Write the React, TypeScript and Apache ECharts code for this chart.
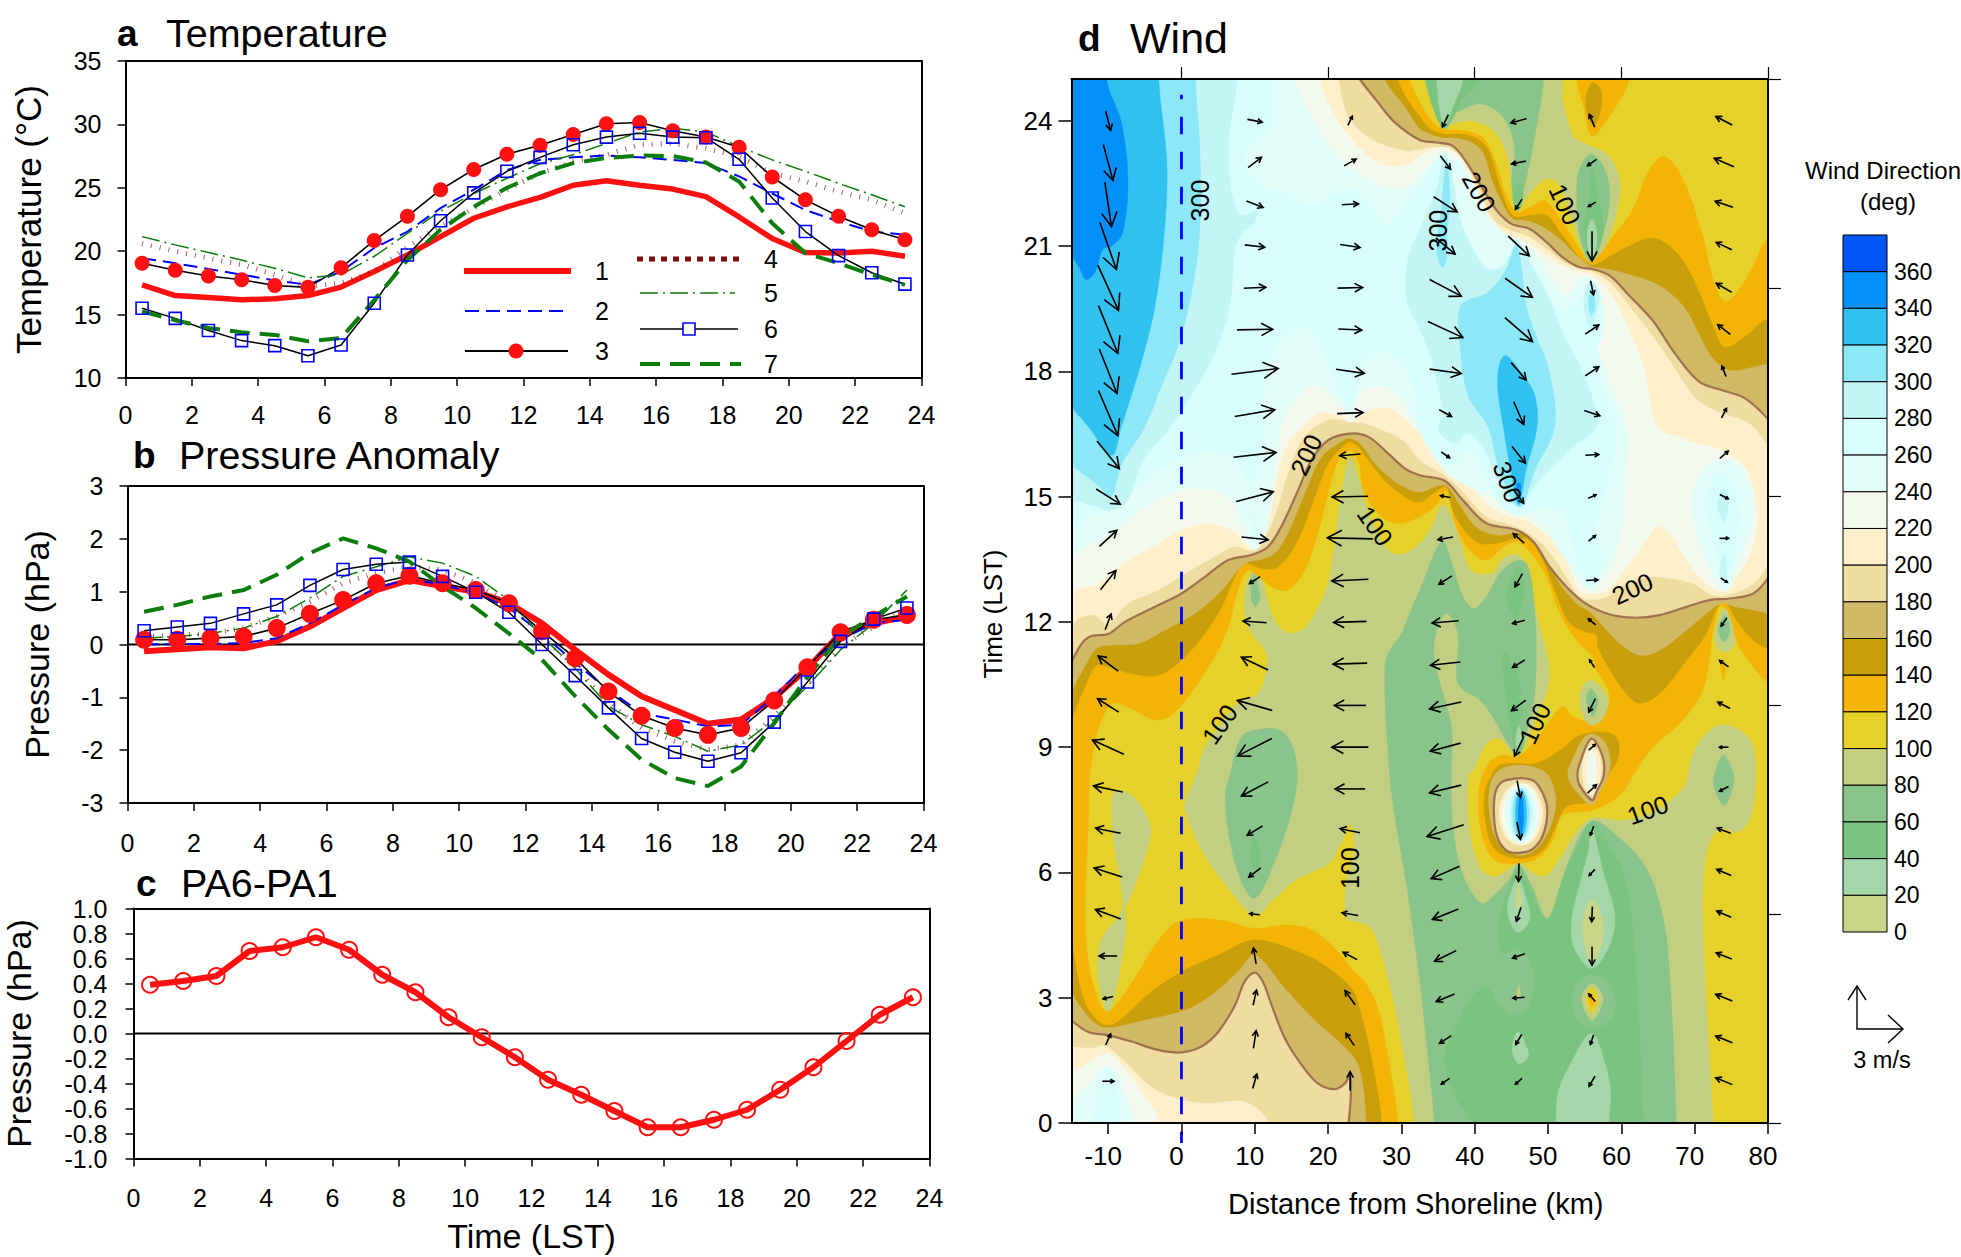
import React, { useEffect, useRef } from "react";
import * as echarts from "echarts";

const FONT = '"Liberation Sans", Arial, sans-serif';

// ---------- panels a, b, c ----------
const hours = [0.5,1.5,2.5,3.5,4.5,5.5,6.5,7.5,8.5,9.5,10.5,11.5,12.5,13.5,14.5,15.5,16.5,17.5,18.5,19.5,20.5,21.5,22.5,23.5];

const temp1 = [17.35,16.5,16.35,16.17,16.25,16.5,17.17,18.4,19.7,21.15,22.6,23.5,24.25,25.2,25.55,25.2,24.9,24.3,22.7,21,19.9,19.85,20,19.6];
const temp2 = [19.45,19.05,18.6,18.15,17.7,17.35,18.4,20.25,21.55,23.4,24.85,26.4,27.2,27.4,27.55,27.4,27.2,26.95,25.9,24.55,23.25,22.35,21.55,21.3];
const temp3 = [19.05,18.5,18.05,17.75,17.3,17.15,18.7,20.85,22.75,24.85,26.45,27.65,28.35,29.2,30.05,30.15,29.5,29,28.2,25.85,24.05,22.75,21.7,20.9];
const temp4 = [20.6,20,19.45,18.95,18.15,17.2,17.5,18.4,20.35,21.95,23.4,24.85,26.15,27.05,27.6,28.4,28.5,28.1,27.45,26.15,25.5,24.7,24.05,23];
const temp5 = [21.15,20.5,19.9,19.3,18.65,17.9,18.15,19.6,21.4,23.15,24.55,25.75,26.9,27.6,28.5,29.4,29.7,29.4,28.25,27.2,26.3,25.35,24.45,23.5];
const temp6 = [15.5,14.7,13.75,12.95,12.55,11.75,12.6,15.9,19.7,22.4,24.6,26.3,27.4,28.4,29,29.3,29,28.95,27.25,24.2,21.55,19.65,18.3,17.4];
const temp7 = [15.25,14.55,13.95,13.6,13.4,12.9,13.15,16.15,19.3,21.7,23.5,25,26.15,26.95,27.35,27.55,27.5,27,25.5,22.2,19.85,19.05,18.15,17.35];

const pres1 = [-0.13,-0.09,-0.05,-0.07,0.06,0.34,0.69,1.03,1.22,1.1,1,0.78,0.4,-0.1,-0.57,-0.98,-1.24,-1.5,-1.42,-1.01,-0.45,0.21,0.4,0.53];
const pres2 = [0,0.01,0.01,0.03,0.12,0.4,0.75,1.07,1.24,1.13,0.97,0.69,0.21,-0.35,-0.86,-1.3,-1.42,-1.55,-1.52,-0.98,-0.35,0.09,0.4,0.47];
const pres3 = [0.09,0.09,0.12,0.15,0.31,0.58,0.84,1.16,1.3,1.16,1.03,0.78,0.25,-0.26,-0.89,-1.35,-1.58,-1.71,-1.58,-1.06,-0.43,0.23,0.47,0.56];
const pres4 = [0.15,0.18,0.21,0.31,0.53,0.81,1.16,1.35,1.47,1.41,1.16,0.78,0.15,-0.42,-1.11,-1.58,-1.83,-1.99,-1.9,-1.36,-0.73,-0.04,0.34,0.66];
const pres5 = [0.12,0.15,0.21,0.31,0.53,0.88,1.29,1.47,1.66,1.54,1.29,0.84,0.15,-0.45,-1.17,-1.52,-1.74,-2.02,-1.9,-1.42,-0.79,-0.1,0.4,1.03];
const pres6 = [0.26,0.33,0.4,0.58,0.75,1.12,1.42,1.52,1.56,1.29,0.99,0.61,0,-0.59,-1.2,-1.78,-2.04,-2.21,-2.05,-1.47,-0.71,0.06,0.48,0.69];
const pres7 = [0.62,0.75,0.91,1.03,1.32,1.73,2.01,1.82,1.57,1.1,0.69,0.21,-0.29,-0.98,-1.61,-2.18,-2.53,-2.68,-2.31,-1.49,-0.61,0.15,0.53,0.91];

const pa6MinusPa1 = [0.39,0.42,0.46,0.66,0.69,0.77,0.67,0.47,0.33,0.13,-0.03,-0.19,-0.37,-0.49,-0.62,-0.75,-0.75,-0.69,-0.61,-0.45,-0.27,-0.06,0.15,0.29];

// ---------- panel d: colour bands from the top of the bar to the bottom ----------
const bandColors = ["#0055F5","#0590F8","#30C1F1","#8CE8F6","#C3F5F7","#D7FEFD","#E2FCF8","#F4F9EE","#FCEFC9","#EFDCA0","#D1B966","#C89F0B","#F4B406","#E6D02A","#C2CE82","#89C58B","#7BC47F","#A5D6AA","#C8D688"];
const barLabels = ["360","340","320","300","280","260","240","220","200","180","160","140","120","100","80","60","40","20","0"];
const BAND = { b340:1,b320:2,b300:3,b280:4,b260:5,b240:6,b220:7,b200:8,b180:9,b160:10,b140:11,b120:12,b100:13,b80:14,b60:15,b40:16,b20:17,b0:18 };

type P = number[];
const plotAll: P[] = [[-40,-20],[120,-20],[120,50],[-40,50]];

// rings are [km, hour]
const olive1: P[] = [[31.8,-1],[31.8,0],[30,1.95],[28.2,3.46],[25.9,4.66],[23.9,4.82],[22.5,4.9],[22.4,5.62],[23.4,6.41],[23.6,6.81],[23,7.17],[21.6,6.65],[20,6.21],[15.9,5.86],[12.7,5.38],[10,4.98],[6.4,5.62],[3.2,6.41],[0.7,7.37],[0.5,7.69],[2,8.33],[3.2,9],[6.4,9.8],[7.7,10.05],[10.5,10.3],[11.6,10.84],[11.6,11.24],[9.1,11.88],[8.6,12.36],[8.9,12.92],[10,13.24],[10.9,13.08],[12.3,12.2],[14.1,11.76],[16.4,11.8],[18.2,12.2],[20,12.92],[20.9,13.88],[21.8,15.07],[23,15.95],[24.1,15.47],[25.9,14.43],[28.4,13.68],[30.5,13.64],[32.5,13.88],[33.9,14.2],[35.7,14.8],[37.5,14.2],[39.1,13.32],[40.2,13.16],[42.3,13.16],[43.9,13.52],[45.9,13.6],[47,13.32],[48.4,12.2],[50,11.08],[50,10.44],[48.2,9.65],[47,9.09],[45.7,8.8],[43.4,9.2],[41.6,9.09],[39.8,8.45],[39.1,8.33],[39.3,6.97],[40.9,6.06],[42.7,5.9],[44.8,6.1],[46,6.24],[47.3,6.06],[49.5,5.9],[51.6,6.33],[53.9,6.97],[56,7.29],[60.2,7.25],[64.3,7.45],[68.4,8],[69.1,8.33],[69.8,8.85],[71.6,9.33],[73.6,9.53],[76.1,9.41],[78,9.01],[78.2,7.93],[77.5,7.29],[75.9,6.97],[73.6,7.05],[72,6.73],[71.1,5.62],[71.4,3.54],[72.5,0],[72.5,-1]];
const olive2: P[] = [[-9.1,7.93],[-6.8,7.85],[-4.8,7.37],[-4.2,6.97],[-5.2,6.26],[-7,5.38],[-7.7,5.14],[-7.6,4.66],[-8.2,3.86],[-9.3,2.9],[-10,2.66],[-10.7,2.9],[-11.4,3.62],[-10.9,4.42],[-8.2,5.06],[-8.2,5.62],[-9.1,6.57],[-9.5,7.37]];
const olive3: P[] = [[33.6,26],[33.6,25],[35.8,23.82],[37,23.92],[39.3,24],[42.3,23.8],[44.3,23.24],[45,22.6],[45.7,21.85],[47.5,22.25],[49.8,22.62],[51.6,22.45],[53.4,21.57],[55.9,20.6],[58.4,21.25],[59.8,22.29],[59.5,22.77],[58,23.2],[55.2,23.44],[53.4,23.64],[52,24.52],[52,25],[52,26]];
const green1: P[] = [[34.5,-1],[34.5,0],[33.4,1.95],[32.5,3.4],[30.7,5.7],[29.3,7.13],[28.4,8.33],[27.7,10.68],[28.2,11.24],[30,11.72],[31.1,12.2],[32.5,12.76],[35.5,13.92],[37.05,13.32],[38.2,12.68],[39.8,12.32],[41.6,12.6],[43.4,13.16],[45.9,13.48],[47.3,13.32],[48.2,12.2],[48.4,11.08],[48,10.05],[46.6,9.09],[45.7,8.81],[44.5,9.09],[42.7,9.65],[40.7,10.13],[37.7,10.53],[37.7,11.72],[36.1,12.2],[34.5,11.56],[34.8,10.84],[36.8,9.5],[36.8,8.33],[37,7.13],[38.4,5.94],[40.9,5.26],[42.7,5.46],[44.8,5.86],[46,6.19],[47.7,5.7],[50,4.9],[52.95,6.33],[56,7.23],[59.8,6.81],[63.4,6.1],[65.7,4.9],[66.6,3.54],[67.5,0],[67.5,-1]];
const green2: P[] = [[6.6,8.33],[8.2,9.25],[10.5,9.42],[13.2,9.42],[15,9.09],[15.8,8.33],[15,7.45],[12.7,6.26],[10,5.38],[8,5.86],[6.4,6.97],[6,7.85]];
const green3: P[] = [[72.7,8.33],[73.9,8.81],[75.3,8.33],[75,7.93],[74,7.61],[72.7,8.01]];
const green4: P[] = [[9.9,13.16],[10.7,12.6],[10.1,12.36],[9.5,12.6]];
const green5: P[] = [[33.2,26],[33.2,25],[35.8,23.82],[37.3,24.16],[38.9,24.32],[40.7,24.4],[42.7,24.28],[44.5,23.92],[45.5,23.24],[45,22.6],[45.7,21.85],[46.8,22.45],[48.2,23.64],[49.4,25],[49.4,26]];
const green6: P[] = [[55.9,23.2],[57.7,22.85],[58.4,22.2],[57.7,21.4],[55.9,20.6],[54.3,21.25],[53.9,22.2],[54.3,22.85]];
const mid1: P[] = [[39.5,-1],[39.5,0],[37,0.75],[35.9,1.63],[38,2.5],[40.2,3.14],[41.8,3.22],[43.4,2.82],[45,2.58],[47,2.7],[48.2,3.38],[47.5,3.86],[45.9,4.18],[43.9,4.06],[43.2,4.5],[43.2,4.82],[44.8,5.7],[46,6.19],[47,5.78],[48.9,5.06],[50.1,4.9],[52,5.86],[53.9,6.57],[56,7.23],[57.95,6.73],[60.2,6.02],[61.6,4.58],[62.3,2.74],[63,0],[63,-1]];
const mid2: P[] = [[33.4,26],[33.4,25],[35.8,23.82],[38.4,24.52],[40.7,25],[40.7,26]];
const mid3: P[] = [[56,22.9],[56.8,22.2],[57.5,21.4],[56,20.65],[54.8,21.4],[55.7,22.2]];
const mid4: P[] = [[46.1,22.5],[46.6,22.2],[45.9,21.85],[45.2,22.2]];
const mid5: P[] = [[45.9,13.32],[46.8,12.84],[45.7,12.12],[44.4,12.44],[44.5,12.84]];
const mid6: P[] = [[43.9,11.28],[45.5,10.84],[46.6,9.9],[45.9,9.5],[46.8,9.17],[45.9,8.81],[44.8,9.57],[44.1,10.44]];
const mid7: P[] = [[10,6.81],[10.8,6.45],[10.1,6.06],[9.3,6.42]];
const pale1: P[] = [[51.1,-1],[51.1,0],[51.4,0.75],[53,1.39],[55.9,2.15],[57.7,1.47],[58.5,0.75],[58.3,0],[58.3,-1]];
const pale2: P[] = [[56,7.05],[57.5,6.02],[59.1,4.98],[58.4,4.26],[56,3.7],[53.6,4.18],[53.2,4.82],[54.3,5.7],[55.5,6.5]];
const pale3: P[] = [[45.95,5.86],[47,5.38],[47.5,4.9],[46,4.56],[44.8,4.82],[44.5,5.22],[45.1,5.62]];
const pale4: P[] = [[45.95,2.18],[47.3,1.7],[47,1.51],[45.9,1.43],[45.1,1.79]];
const pale5: P[] = [[34.8,26],[34.8,25],[35.8,23.9],[37.3,24.45],[38.4,25],[38.4,26]];
const pale6: P[] = [[56,21.65],[56.6,21.4],[56.6,21],[56,20.7],[55.4,21],[55.4,21.4]];
const pale7: P[] = [[46,9.5],[46.4,9.17],[45.9,8.93],[45.6,9.17]];
const low1: P[] = [[45.95,5.78],[46.4,5.22],[45.95,5.1],[45.6,5.26]];
const low2: P[] = [[55.9,5.34],[57.4,4.9],[57.3,4.26],[55.9,3.8],[54.8,4.42],[54.8,4.9]];
const spot60: P[] = [[56,3.54],[58.4,3.34],[59.2,2.9],[58.2,2.42],[56,2.28],[54.1,2.46],[53.3,2.9],[54.1,3.38]];
const spot80: P[] = [[56,3.34],[57.5,2.98],[56,2.46],[54.6,2.98]];
const spot100: P[] = [[56,3.26],[56.8,2.94],[56,2.62],[55.2,2.94]];
const spot120: P[] = [[56,3.08],[56.4,2.92],[56,2.78],[55.6,2.92]];
const spot80b: P[] = [[46,3.3],[46.2,3],[45.7,3]];

const orange1: P[] = [[29.5,-2],[29.5,0],[28.6,1.15],[26.8,2.74],[25,3.38],[23.6,3.62],[20.5,4.26],[17.3,4.66],[14.1,4.74],[10,4.66],[6.4,4.82],[1.8,4.9],[-0.9,4.78],[-3.6,4.26],[-6.4,3.46],[-10,2.66],[-11.4,2.98],[-12.7,3.86],[-13.2,5.14],[-12.7,7.13],[-12.5,8.33],[-11.8,9.09],[-10.9,9.65],[-9.3,10.05],[-7,9.93],[-3.6,9.65],[-1.4,9.77],[0.9,10.2],[4.5,11.16],[6.4,11.88],[7.7,12.76],[9.1,13.24],[10.5,13.08],[12.3,12.84],[14.5,12.76],[16.8,13.24],[18.6,14.12],[20,15.07],[21.4,15.87],[23,16.11],[24.1,15.87],[25,15.07],[27.3,14.52],[29.5,14.36],[32.5,14.52],[34.8,14.8],[36.1,15.15],[37.5,14.27],[39.3,13.72],[41.6,13.48],[43.9,13.8],[45.7,13.92],[47.5,13.68],[49.8,13.08],[51.6,12.2],[53.9,11.56],[56.1,11.16],[56.6,10.84],[58.2,10.37],[58.2,9.97],[56.4,9.61],[53.4,9.73],[52,9.97],[50,9.57],[48.2,9.13],[45.7,8.77],[43.9,8.81],[42.3,8.69],[41.1,8.33],[40.5,7.85],[40.7,7.13],[42.3,6.37],[44.8,6.21],[48.4,6.33],[50.5,6.73],[52,7.37],[56.1,7.49],[59.8,7.85],[61.6,8.33],[64.3,9],[68.4,9.65],[71.1,10.37],[72,11.08],[72.5,11.8],[73.6,12.4],[74.8,11.96],[76.1,11.4],[78,10.92],[80,10.53],[82.5,10.3],[82.5,21],[80,21.17],[78,20.53],[76.1,19.97],[74.1,19.67],[72.5,20.2],[71.1,21.25],[68.4,22.6],[65.9,23.15],[63.9,22.85],[61.6,21.89],[59.3,21.33],[55.9,20.63],[54.3,20.93],[52,21.57],[49.5,22.09],[47.95,21.97],[45.8,21.81],[44.3,22.21],[42.7,23.08],[41.1,23.6],[38.4,23.76],[35.8,23.79],[34.3,23.96],[32.5,24.44],[31.1,25],[30,26],[-17,27],[-17,-2]];
const orange2: P[] = [[53.9,26],[53.9,25],[54.8,24.36],[56,23.64],[58.4,24.12],[61.1,25],[61.1,26]];
const orange3: P[] = [[73.6,11],[74.2,10.9],[73.9,10.6]];
const dark1: P[] = [[27.3,-2],[27.3,0],[25.9,1.55],[24.3,2.74],[23.2,3.22],[19.5,3.78],[15.9,4.1],[10,4.38],[5,4.02],[0,3.62],[-4.1,3.14],[-6.4,2.78],[-9.1,2.38],[-10.9,2.38],[-13.2,2.9],[-15,4.34],[-16.5,6],[-16.5,9],[-15,9.65],[-13.2,10.44],[-11.6,10.96],[-10,10.92],[-6.8,10.76],[-3.2,10.72],[0,11.08],[3.2,11.72],[5.5,12.36],[7.3,13.08],[8.6,13.4],[10.9,13.28],[13.2,13.32],[15.9,13.96],[18.2,15],[20,15.79],[22,16.2],[23,16.31],[24.1,16.2],[25.5,15.87],[27.7,15.39],[30.5,14.99],[32.5,14.87],[34.3,15.07],[36.1,15.23],[37,14.67],[38.9,14.12],[40.7,13.88],[43,13.88],[45.7,14],[47.5,13.96],[49.3,13.48],[51.1,12.68],[53,11.96],[55.2,11.76],[56.6,11.68],[56.8,11.4],[59.3,10.6],[60.7,10.28],[62.5,10.05],[65.2,10.28],[68.9,11.08],[71.6,11.72],[73,12.32],[74.1,12.48],[75.7,12.04],[78,11.56],[80,11.36],[82.5,11.2],[82.5,19],[80,19.25],[77,18.85],[74.1,18.58],[72.5,19.09],[69.8,20.21],[67.5,20.85],[64.3,21.19],[60.7,20.97],[56.6,20.57],[55.9,20.55],[54.3,20.73],[52,21.25],[49.8,21.73],[47.5,21.73],[45.2,21.73],[43.4,22.45],[41.8,23.32],[40,23.6],[38,23.68],[35.8,23.68],[33.9,23.8],[32.5,24.1],[30.5,24.6],[29.5,25],[28.5,26],[-17,27],[-17,-2]];
const dark2: P[] = [[55.2,24.6],[56.1,24.92],[57.3,24.68],[57,24.12],[56.1,23.88],[55.2,24.28]];
const dark3: P[] = [[43.4,8.57],[46.1,8.61],[48.4,8.61],[52,8.97],[53.9,9.25],[57,9.37],[59.3,9.25],[59.6,8.77],[58.2,8.33],[56.1,7.73],[52.5,7.57],[50.9,7.05],[49.3,6.53],[46.1,6.33],[42.7,6.57],[41.4,7.29],[41.4,7.93],[42.3,8.33]];
const tan1: P[] = [[25.2,-2],[25.2,0],[24.5,1.15],[23.6,1.55],[21.4,1.95],[17.7,2.54],[14.1,3.22],[10,4.02],[7.7,3.62],[4.1,3.06],[0.5,2.7],[-5,2.46],[-9.1,2.3],[-10.9,2.3],[-12.7,2.54],[-15,3.14],[-16.5,4],[-16.5,9],[-15,10.28],[-13.2,10.92],[-11.6,11.36],[-9.8,11.44],[-5.9,11.48],[-2.3,11.8],[1.8,12.2],[5.5,12.76],[7.7,13.24],[9.1,13.44],[10.5,13.48],[12.7,13.64],[14.5,14.12],[16.8,15.07],[19.1,15.95],[21.4,16.27],[23,16.4],[24.6,16.23],[26.4,15.79],[28.6,15.43],[30.9,15.19],[32.5,15.11],[35.9,15.27],[38,14.79],[40.2,14.27],[43,14.08],[45.7,14.13],[47.5,14.08],[49.8,13.52],[51.6,12.92],[53.9,12.44],[55.7,12.24],[58,11.8],[59.8,11.48],[62.5,11.2],[65.2,11.32],[68.9,11.8],[71.6,12.2],[73.6,12.44],[75.5,12.36],[78,12.28],[80,12.2],[82.5,12],[82.5,17.5],[80,18.14],[78,18.1],[74.8,18.02],[72.5,18.3],[70.7,18.85],[68.4,19.57],[65.2,20.05],[61.6,20.29],[58,20.45],[55.9,20.51],[53.9,20.77],[51.6,21.17],[49.3,21.45],[47,21.61],[45.2,21.65],[43.9,21.97],[42.3,22.6],[41.1,23.24],[39.5,23.48],[37.5,23.58],[35.2,23.6],[33.4,23.72],[32.5,23.8],[30.5,24.32],[27.7,25],[26.5,26],[-17,27],[-17,-2]];
const tan2: P[] = [[42.7,8.33],[43.9,8.5],[46.1,8.57],[48.4,8.5],[50,8.33],[51,7.85],[50.9,7.45],[50,6.97],[48.4,6.57],[46.1,6.41],[43.2,6.73],[42.05,7.37],[42,8]];
const tan3: P[] = [[55.9,9.32],[57.7,9.13],[58.5,8.69],[58.2,8.33],[57,7.89],[56,7.61],[53.9,7.93],[52.7,8.33],[53.6,8.81],[54.8,9.2]];
const pocket1: P[] = [[55.9,10.6],[57.5,10.37],[58.2,10.05],[57.3,9.65],[55.9,9.53],[54.8,9.73],[54.3,10.17],[54.8,10.48]];
const pocket1a: P[] = [[55.9,10.4],[56.8,10.13],[56.1,9.73],[55.5,9.97],[55.2,10.2]];
const pocket2: P[] = [[74.1,12.32],[75.5,11.56],[74.5,11.28],[73.2,11.36],[72.7,11.72]];
const pocket2a: P[] = [[74.1,12.16],[74.8,11.8],[74,11.52],[73.2,11.8]];

// the brown contour lines
const brownUpper: P[] = [[24.3,25],[26.8,24.44],[29.1,23.96],[32.5,23.54],[34.8,23.48],[37,23.4],[38.9,23],[41.1,22.37],[43,21.85],[45,21.53],[47.5,21.41],[49.8,21.09],[52,20.73],[54.3,20.49],[56.1,20.45],[58.4,20.29],[61.1,19.81],[64.3,19.21],[67.5,18.38],[70.7,17.74],[73.9,17.54],[76.6,17.38],[78.4,17.14],[80,16.86]];
const brownLower: P[] = [[-15,11.04],[-13.6,11.48],[-12.3,11.66],[-10,11.71],[-7.7,12],[-3.6,12.36],[0,12.68],[3.2,13.08],[6.4,13.48],[9.5,13.6],[11.8,13.8],[13.6,14.28],[15.9,15.15],[17.7,15.87],[20,16.35],[23,16.51],[25.5,16.43],[28.2,16.03],[30.5,15.67],[32.5,15.51],[35.9,15.38],[38.4,14.91],[41.6,14.36],[45.7,14.2],[48,13.92],[50.2,13.32],[52.5,12.84],[54.8,12.48],[58,12.2],[61.6,12.1],[65.2,12.16],[68.9,12.36],[72,12.52],[74.8,12.56],[78,12.68],[80,13.04]];
const brownBottom: P[] = [[-15,2.46],[-12.7,2.18],[-10,2.1],[-6.8,1.95],[-3.2,1.75],[0,1.69],[2.7,1.83],[5,2.18],[7.3,2.82],[8.6,3.38],[10,3.6],[11.1,3.38],[12.3,2.82],[14.1,2.03],[16.4,1.39],[18.6,0.95],[20.9,0.81],[22.3,0.95],[23,1.15],[23.1,0.67],[22.8,0]];
const brownBubble1: P[] = [[44.3,8.21],[47.9,8.21],[49.4,7.85],[49.9,7.45],[49.3,6.89],[47.9,6.56],[46.1,6.47],[44.3,6.53],[43,6.89],[42.6,7.53],[43,8.01]];
const brownBubble2: P[] = [[55.9,9.2],[57.4,8.8],[57.6,8.33],[56.6,7.93],[56,7.73],[54.3,8.09],[54,8.33],[54.3,8.6]];

const band180: P[] = [[-17,10.5],...brownLower,[82,15],...[...brownUpper].reverse(),[23,26.5],[-17,27]];
const band180b: P[] = [[-17,2.6],...brownBottom,[22.8,-2],[-17,-2]];

const band200: P[] = [[-15,11.88],[-12.3,12.18],[-10,11.96],[-7.3,12.44],[-3.2,12.76],[0.5,13.16],[4.1,13.52],[7.3,13.8],[9.8,13.73],[12.3,14.35],[14.5,15.55],[16.4,16.35],[18.2,16.67],[20.5,16.85],[23,16.8],[25,16.75],[28,16.55],[30.5,16.3],[32.5,15.87],[35.9,15.51],[38.4,15.11],[41.6,14.51],[44.3,14.36],[46.6,14.2],[48.9,13.92],[50.7,13.56],[52.5,13.08],[54.3,12.6],[56.1,12.54],[58,12.6],[60.7,12.92],[63.9,13.08],[66.6,13.04],[69.8,12.92],[72.5,12.64],[75.2,12.68],[78,12.92],[80,13.4],[82,14.5],[82,16],[80,16.23],[78,16.67],[76.1,16.86],[73.4,17.02],[70.2,17.34],[67,18.14],[63.9,18.93],[60.7,19.65],[58.4,20.13],[56.1,20.38],[52.5,20.57],[49.8,20.93],[47,21.25],[44.8,21.37],[42.5,21.65],[40.5,22.37],[38,23.16],[35.9,23.32],[33.9,23.36],[32.5,23.31],[30.5,23.28],[25.9,23.56],[22.7,24.12],[21.4,25],[20,26.5],[-17,27],[-17,10]];
const band200b: P[] = [[-17,1.9],[-15,1.83],[-12.3,1.79],[-10.5,1.85],[-7.7,1.47],[-4.5,0.91],[-1.4,0.63],[3.2,0.47],[7.7,0.53],[10,0.39],[11.8,0],[12,-2],[-17,-2]];
const band220: P[] = [[-15,12.68],[-11.4,12.92],[-7.3,13.48],[-3.2,13.88],[0,14.2],[3.6,14.37],[6.8,14.2],[10,13.72],[11.6,14.2],[13.2,15.63],[14.5,16.27],[16.4,16.67],[18.9,17.02],[21.6,16.94],[23,16.78],[25.9,17.1],[28.6,17.1],[30.5,16.86],[31.5,16.67],[33.9,16.35],[35.9,15.79],[38.4,15.51],[41.6,14.83],[44.3,14.55],[47,14.43],[50.7,13.96],[52.5,13.48],[54.3,12.76],[56.1,12.68],[58,12.76],[60.7,13.32],[63.4,13.96],[64.8,14.28],[66.6,14.12],[68.9,13.48],[71.6,12.92],[74.1,12.72],[76.1,13.16],[78.2,13.96],[78.4,14.75],[76.8,15.71],[73.4,16.11],[68.9,16.35],[65,16.67],[63,18.14],[60.7,19.13],[58.4,19.89],[56,20.3],[52.9,20.45],[49.8,20.77],[47,21.09],[43.9,21.33],[41.6,21.81],[38.9,22.85],[37,23.28],[35.2,23.36],[32.5,23.16],[30,22.91],[26.8,23],[23.2,23.56],[20.9,24.12],[18.9,25],[18,26.5],[-17,27],[-17,11]];
const band220b: P[] = [[-17,1.1],[-15,1.23],[-12.7,1.43],[-10,1.67],[-8.2,1.39],[-5.5,0.75],[-3.1,0],[-3,-2],[-17,-2]];
const band240: P[] = [[-15,13.52],[-9.5,14.12],[-4.1,14.83],[0,15.15],[3.2,15.19],[6.4,14.99],[8.2,14.35],[10,13.76],[11.8,14.44],[12.7,15.47],[13.6,16.67],[15.5,17.34],[17.7,17.66],[19.5,17.58],[21.8,17.18],[23,17.02],[24.5,17.5],[27.3,17.66],[29.5,17.42],[31.8,16.78],[33.5,16.2],[36,15.6],[38.4,15.3],[41.6,15.05],[45.7,14.75],[48.9,14.35],[51.6,13.7],[53.9,13.08],[55.7,12.76],[57,12.92],[58.4,13.32],[59.8,14.04],[60.5,15.15],[60.7,16.67],[58.9,17.42],[57.7,18.06],[56.8,18.7],[57.7,19.41],[56.1,20.21],[54.3,20.21],[52.5,19.81],[50.7,20.21],[47.5,20.93],[44.5,21.25],[42,21.65],[39.5,22.6],[37.5,23.08],[34.1,22.92],[32.5,22.69],[31.4,22.45],[28.6,22.37],[24.5,22.69],[20.5,23.32],[17.7,24.12],[15.5,25],[14.5,26.5],[-17,27],[-17,12]];
const band240b: P[] = [[-17,0.2],[-15,0.47],[-12.3,0.99],[-10,1.39],[-8.4,0.99],[-6.4,0],[-6,-2],[-17,-2]];
const band260: P[] = [[-15,14.2],[-9.1,14.83],[-3.6,15.55],[0,15.91],[3.2,16.1],[5.9,16],[8.2,15.63],[9.3,15.23],[10.9,16.19],[11.3,16.67],[11,17.48],[13.2,18.7],[15.9,19.05],[18.2,18.85],[20.9,17.82],[23,17.02],[25,18.3],[28.2,18.42],[30.9,17.98],[32.5,16.67],[35.2,15.87],[37,15.75],[38.9,16.11],[41.1,15.63],[43.4,14.83],[46.1,14.55],[49.3,14.75],[52,14.6],[53.9,13.48],[55.7,12.84],[56.6,13],[57.5,13.64],[56.4,14.2],[58.2,15.47],[59.3,16.67],[57.7,17.42],[56.6,18.6],[57.3,18.8],[57.5,19.41],[56.6,19.97],[56.1,20.13],[55,19.89],[53.4,19.57],[51.6,19.45],[49.8,20.05],[47,20.85],[45.7,21.2],[44.8,20.85],[43,20.45],[42,20.41],[39.3,20.93],[36.8,22.13],[36.1,23.24],[34.8,23.08],[33,22.6],[32.5,22.53],[30.5,21.97],[27.7,21.53],[25,22.13],[22.3,22.37],[17.7,21.97],[14.1,22.25],[10.9,22.45],[9.1,22.77],[8.6,23.24],[10,23.56],[11.8,23.8],[12.3,24.52],[12.3,25],[12,26.5],[-17,27],[-17,13]];
const band260b: P[] = [[-12.3,-1],[-12.3,0],[-10.4,1.15],[-10,1.3],[-9.3,1.15],[-8.4,0],[-8.4,-1]];
const band260c: P[] = [[10,14.75],[10.3,14.3],[10,13.95],[9.7,14.3]];
const band280a: P[] = [[7.6,25],[7.3,24.52],[6.6,23.8],[6.5,22.77],[7.3,21.97],[8.2,21.73],[10.2,21.85],[10,21.57],[8.2,21.29],[7.3,20.93],[6.8,19.81],[5.5,18.85],[3.2,17.98],[-1.4,16.67],[-5.2,15.87],[-7.5,14.87],[-9.8,14.67],[-12.3,14.79],[-15,14.87],[-17,14],[-17,27],[7.6,27]];
const band280b: P[] = [[32.5,21.41],[34.8,22.37],[35.9,23.2],[37,22.6],[38,21.65],[39.8,20.93],[41.8,20.45],[43.9,20.53],[45.9,21.09],[47.5,20.61],[50.2,19.73],[52,18.93],[54.3,18.14],[56.1,17.34],[56.6,16.67],[52.95,16.11],[48.4,15.31],[46.1,14.75],[43.4,15.31],[41.1,16.19],[38.9,16.51],[37.5,16.27],[35.7,16.43],[35,16.67],[35.7,17.02],[34.8,17.74],[33.9,18.38],[32.5,19.01],[30.9,19.57],[30.6,20.21],[31.1,20.85]];
const band280c: P[] = [[55.9,20.17],[57,19.81],[56.6,19.41],[55.9,19],[55,19.41],[55,19.81]];
const band300a: P[] = [[1.9,25],[2.5,23.4],[2.5,21.4],[1.4,19.9],[-0.5,18.6],[-2.7,17.65],[-5,16.67],[-8.2,15.75],[-9.6,15],[-11.1,15.23],[-15,15.75],[-17,16],[-17,27],[1.9,27]];
const band300b: P[] = [[37.9,19.49],[38.9,19.69],[41.8,19.89],[44.3,20.45],[45.7,21.05],[46.4,20.45],[47,19.57],[48.2,18.93],[50.2,17.98],[50.9,16.67],[48.2,15.63],[46.1,14.75],[43.4,15.63],[41.8,16.67],[39.1,17.42],[37.9,18.77]];
const band300c: P[] = [[36.1,23.08],[36.6,22.29],[36.2,21.17],[36.1,20.65],[35.5,20.49],[34.8,20.93],[35.5,21.97]];
const band300d: P[] = [[55.9,19.97],[56.4,19.57],[55.9,19.33],[55.5,19.65]];
const band320a: P[] = [[-3.1,25],[-2,23],[-2.3,21.4],[-3.6,19.57],[-5.5,18.2],[-8.2,16.67],[-9.5,15.99],[-12.7,16.67],[-15,17.14],[-17,17.5],[-17,27],[-3.1,27]];
const band320b: P[] = [[44.1,18.38],[46.6,17.9],[48.2,17.42],[48.5,16.67],[47,15.63],[46,14.8],[45,15.55],[43.9,16.67],[43.1,17.82]];
const band340a: P[] = [[-10.2,25],[-8.2,23.96],[-7.3,22.6],[-8,21.33],[-9.5,21],[-10.7,20.93],[-11.8,20.37],[-13,20.2],[-14.1,20.53],[-15,20.7],[-17,20.5],[-17,27],[-10.2,27]];
const band340b: P[] = [[45.7,15.3],[46.3,15.3],[46,14.85]];
const east240: P[] = [[72,15.79],[75.7,15.79],[78.2,14.83],[77.1,13.96],[74.1,12.76],[71.6,13.48],[69.5,14.75],[70.2,15.31]];
const east260: P[] = [[73.6,15.55],[75.7,15.07],[76.1,14.27],[74.1,12.92],[72.7,13.88],[71.6,14.67],[72,15.23]];
const east280a: P[] = [[74,15.19],[74.6,14.83],[74,14.4],[73.1,14.79]];
const east280b: P[] = [[74,13.64],[74.4,13.24],[74,12.92],[73.4,13.24]];

// closed bubbles: [km, hour, half width in km, half height in hours, band]
const bubbles46 = [[46.3,7.4,3,0.76,BAND.b200],[46.3,7.4,2.6,0.72,BAND.b220],[46.3,7.4,2.2,0.69,BAND.b240],[46.3,7.4,1.85,0.66,BAND.b260],[46.3,7.4,1.5,0.63,BAND.b280],[46.3,7.4,1.15,0.6,BAND.b300],[46.3,7.4,0.8,0.56,BAND.b320],[46.3,7.4,0.4,0.48,BAND.b340]];
const bubbles56 = [[55.95,8.45,1.3,0.6,BAND.b200],[55.95,8.45,0.65,0.5,BAND.b220],[55.95,8.45,0.25,0.4,BAND.b240]];

const bandLayers: [number, P[]][] = [
  [BAND.b100, plotAll],
  [BAND.b80, olive1],[BAND.b80, olive2],[BAND.b80, olive3],
  [BAND.b60, green1],[BAND.b60, green2],[BAND.b60, green3],[BAND.b60, green4],[BAND.b60, green5],[BAND.b60, green6],
  [BAND.b40, mid1],[BAND.b40, mid2],[BAND.b40, mid3],[BAND.b40, mid4],[BAND.b40, mid5],[BAND.b40, mid6],[BAND.b40, mid7],
  [BAND.b20, pale1],[BAND.b20, pale2],[BAND.b20, pale3],[BAND.b20, pale4],[BAND.b20, pale5],[BAND.b20, pale6],[BAND.b20, pale7],
  [BAND.b0, low1],[BAND.b0, low2],
  [BAND.b60, spot60],[BAND.b80, spot80],[BAND.b100, spot100],[BAND.b120, spot120],[BAND.b80, spot80b],
  [BAND.b120, orange1],[BAND.b120, orange2],[BAND.b120, orange3],
  [BAND.b140, dark1],[BAND.b140, dark2],[BAND.b140, dark3],
  [BAND.b160, tan1],[BAND.b160, tan2],[BAND.b160, tan3],
  [BAND.b80, pocket1],[BAND.b60, pocket1a],[BAND.b80, pocket2],[BAND.b60, pocket2a],
  [BAND.b180, band180],[BAND.b180, band180b],[BAND.b180, brownBubble1],[BAND.b180, brownBubble2],
  [BAND.b200, band200],[BAND.b200, band200b],
  [BAND.b220, band220],[BAND.b220, band220b],
  [BAND.b240, band240],[BAND.b240, band240b],[BAND.b240, east240],
  [BAND.b260, band260],[BAND.b260, band260b],[BAND.b260, band260c],[BAND.b260, east260],
  [BAND.b280, band280a],[BAND.b280, band280b],[BAND.b280, band280c],[BAND.b280, east280a],[BAND.b280, east280b],
  [BAND.b300, band300a],[BAND.b300, band300b],[BAND.b300, band300c],[BAND.b300, band300d],
  [BAND.b320, band320a],[BAND.b320, band320b],
  [BAND.b340, band340a],[BAND.b340, band340b],
];

const contourLines: [P[], boolean][] = [[brownUpper,false],[brownLower,false],[brownBottom,false],[brownBubble1,true],[brownBubble2,true]];

const contourLabels: [number, number, number, string][] = [
  [2.5,22.09,90,"300"],[40.6,22.3,-60,"200"],[35,21.37,90,"300"],[52.3,22,-65,"100"],[17,16,65,"200"],[26.4,14.3,-55,"100"],
  [44.5,15.35,-70,"300"],[61.5,12.8,25,"200"],[5.2,9.55,55,"100"],[48.2,9.57,65,"100"],[63.6,7.5,20,"100"],[23,6.1,90,"100"],
];

// wind vectors [u, v] in m/s, hours 1..24
const windHours = [1,2,3,4,5,6,7,8,9,10,11,12,13,14,15,16,17,18,19,20,21,22,23,24];
const windM10 = [[.78,0],[.33,.77],[-.67,-.16],[-1.2,0],[-1.69,.65],[-1.87,.63],[-1.67,.35],[-1.96,.42],[-2.09,.98],[-1.42,.93],[-1.33,1.05],[.4,1.09],[1.02,1.33],[1.16,1.12],[1.6,-1.05],[1.49,-1.91],[1.29,-3.14],[1.18,-3.09],[1.29,-3.33],[1.38,-3.14],[1.1,-3.26],[.44,-3.09],[.64,-2.49],[.33,-1.33]];
const wind10 = [[.27,1],[.18,1.23],[.22,1.05],[-.18,1.09],[-.67,.07],[-.8,-.65],[-1.02,-.65],[-1.78,-.98],[-2.27,-1.21],[-2.33,.7],[-1.78,.88],[-1.56,.12],[-.71,-.49],[1.78,-.19],[2.47,.67],[2.84,.33],[2.67,.47],[3.11,.4],[2.38,.05],[1.47,.07],[1.33,-.16],[1.11,-.44],[.89,.72],[.98,-.19]];
const wind23 = [[0,1.33],[-.56,.86],[-.67,.98],[-.93,.51],[-1.07,.19],[-.5,.1],[-1.33,.28],[-2,0],[-2.44,0],[-2.11,0],[-2.27,-.07],[-2.18,-.07],[-2.44,-.12],[-3.04,.07],[-2.4,-.05],[-1.38,-.12],[1.73,.07],[1.89,-.28],[1.56,-.07],[1.67,.05],[1.33,-.21],[1.11,.07],[.8,.47],[.29,.63]];
const wind36 = [[-.56,-.4],[-.78,-.53],[-1.22,-.53],[-1.44,-.74],[-1.73,-.72],[-1.89,-.86],[-2.44,-.81],[-2.11,-.53],[-2.02,-.56],[-2.11,-.47],[-2,-.23],[-1.78,-.16],[-.87,-.58],[-1,-.19],[-.64,.12],[.56,-.4],[.82,-.47],[2.11,-.3],[2.33,-1.12],[2.11,-1.16],[1.29,-1.12],[1.56,-1.05],[.69,-.93],[-.4,-.86]];
const wind46 = [[-.44,-.4],[-.4,-.7],[-.78,-.07],[-.82,-.3],[-.31,-.98],[-.04,-1.26],[.24,-1.21],[.22,-1.16],[-.56,-1.23],[-.96,-.74],[-.82,-.53],[-.82,-.23],[-.49,-.91],[-.73,.65],[.67,-.93],[.89,-1.16],[.67,-1.58],[1,-1.21],[1.84,-1.67],[1.82,-1.33],[1.4,-1.37],[-.44,-.72],[-.96,-.19],[-1.04,-.3]];
const wind56 = [[-.4,-.7],[-.22,-.67],[-.44,.53],[0,-1.28],[-.04,-1.05],[-.38,-.42],[-.22,-.63],[.6,.58],[.44,.4],[-.44,-.93],[-.33,.53],[-.49,.42],[.78,.05],[.47,.4],[.51,.23],[.89,.05],[1.04,-.37],[.91,.63],[.91,.63],[.2,-.98],[0,-2.05],[-.49,-.3],[-.6,-.44],[-.36,.88]];
const wind74 = [[-1.11,.47],[-1.11,.47],[-1.11,.47],[-1.04,.42],[-.96,.42],[-.96,.42],[-.89,.35],[-.6,-.33],[-.6,0],[-.82,.44],[-.6,.44],[-.38,-.58],[.44,-.3],[.6,0],[.56,-.3],[.56,.51],[.33,.65],[-.27,.72],[-.84,.67],[-1.04,.63],[-1.04,.51],[-1.18,.42],[-1.31,.58],[-1.09,.6]];
const windStations: [number, number[][]][] = [[-10,windM10],[10,wind10],[23,wind23],[36,wind36],[46,wind46],[56,wind56],[74,wind74]];

const zip = (ys: number[]) => ys.map((y, i) => [hours[i], y]);

const RED = "#FF1010", BLUE = "#0000FF", GREEN = "#0B7D0B", MAROON = "#7B0A0A";
const windData: number[][] = [];
windStations.forEach(([km, vals]) => vals.forEach((w, i) => windData.push([km, windHours[i], w[0], w[1]])));

function sevenLines(x: number, y: number, data: number[][], dotSize: number, redWidth: number) {
  const base = { type: "line", xAxisIndex: x, yAxisIndex: y, silent: true, symbol: "none" };
  return [
    { ...base, name: "1", data: zip(data[0]), lineStyle: { color: RED, width: redWidth } },
    { ...base, name: "2", data: zip(data[1]), lineStyle: { color: BLUE, width: 2, type: [14, 7] } },
    { ...base, name: "3", data: zip(data[2]), lineStyle: { color: "#000", width: 1.6 }, symbol: "circle", symbolSize: dotSize, itemStyle: { color: RED }, showSymbol: true },
    { ...base, name: "4", data: zip(data[3]), lineStyle: { color: MAROON, width: 5, type: [1, 8], opacity: 0.65 } },
    { ...base, name: "5", data: zip(data[4]), lineStyle: { color: GREEN, width: 1.5, type: [18, 5, 2, 5] } },
    { ...base, name: "6", data: zip(data[5]), lineStyle: { color: "#000", width: 1.5 }, symbol: "rect", symbolSize: 12, itemStyle: { color: "rgba(255,255,255,0)", borderColor: BLUE, borderWidth: 1.6 }, showSymbol: true },
    { ...base, name: "7", data: zip(data[6]), lineStyle: { color: GREEN, width: 4, type: [20, 10] } },
  ];
}

function renderBand(params: any, api: any) {
  const [band, ring] = bandLayers[params.dataIndex];
  const fill = bandColors[band];
  return { type: "polygon", shape: { points: ring.map((p) => api.coord(p)), smooth: 0.35 }, style: { fill, stroke: fill, lineWidth: 0.4 } };
}
function renderBubble(params: any, api: any) {
  const c = api.coord([api.value(0), api.value(1)]);
  const s = api.size([api.value(2), api.value(3)]);
  return { type: "ellipse", shape: { cx: c[0], cy: c[1], rx: s[0], ry: s[1] }, style: { fill: bandColors[api.value(4)] } };
}
function renderContour(params: any, api: any) {
  const [line, closed] = contourLines[params.dataIndex];
  return { type: closed ? "polygon" : "polyline", shape: { points: line.map((p) => api.coord(p)), smooth: 0.35 }, style: { fill: "none", stroke: "#A0714F", lineWidth: 2.2 } };
}
function renderLabel(params: any, api: any) {
  const [km, h, rot, text] = contourLabels[params.dataIndex];
  const c = api.coord([km, h]);
  return { type: "text", x: c[0], y: c[1], rotation: (rot * Math.PI) / 180, style: { text, fill: "#000", fontSize: 25, fontFamily: FONT, align: "center", verticalAlign: "middle" } };
}
const U_PX = 15, V_PX = 14.4;
function renderArrow(params: any, api: any) {
  const c = api.coord([api.value(0), api.value(1)]);
  const dx = api.value(2) * U_PX, dy = -api.value(3) * V_PX;
  const tail = [c[0] - dx / 2, c[1] - dy / 2], tip = [c[0] + dx / 2, c[1] + dy / 2];
  const len = Math.hypot(dx, dy), ang = Math.atan2(dy, dx), barb = len * 0.36, spread = 0.5;
  const b1 = [tip[0] - barb * Math.cos(ang - spread), tip[1] - barb * Math.sin(ang - spread)];
  const b2 = [tip[0] - barb * Math.cos(ang + spread), tip[1] - barb * Math.sin(ang + spread)];
  const style = { stroke: "#000", fill: "none", lineWidth: 1.6 };
  return { type: "group", children: [
    { type: "polyline", shape: { points: [tail, tip] }, style },
    { type: "polyline", shape: { points: [b1, tip, b2] }, style },
  ] };
}

const textStyle = (text: string, size: number, weight = "normal", align = "left") => ({ text, fill: "#000", fontSize: size, fontFamily: FONT, fontWeight: weight, align, verticalAlign: "middle" });
const txt = (x: number, y: number, text: string, size: number, weight = "normal", align = "left") => ({ type: "text", x, y, z: 20, style: textStyle(text, size, weight, align) });
const seg = (x1: number, y1: number, x2: number, y2: number, style: any) => ({ type: "line", z: 20, shape: { x1, y1, x2, y2 }, style });

function graphics() {
  const g: any[] = [
    txt(117, 33, "a", 37, "bold"), txt(166, 33, "Temperature", 39.5),
    txt(133, 455, "b", 37, "bold"), txt(179, 455, "Pressure Anomaly", 39.5),
    txt(136, 883, "c", 37, "bold"), txt(181, 883, "PA6-PA1", 39.5),
    txt(1078, 38, "d", 37, "bold"), txt(1130, 38, "Wind", 43),
    // legend of panel a
    seg(464, 271, 571, 271, { stroke: RED, lineWidth: 6 }), txt(602, 271, "1", 25, "normal", "center"),
    seg(465, 311, 570, 311, { stroke: BLUE, lineWidth: 2, lineDash: [14, 7] }), txt(602, 311, "2", 25, "normal", "center"),
    seg(465, 351, 568, 351, { stroke: "#000", lineWidth: 2 }), { type: "circle", z: 21, shape: { cx: 516, cy: 351, r: 7.5 }, style: { fill: RED } }, txt(602, 351, "3", 25, "normal", "center"),
    seg(637, 259, 741, 259, { stroke: MAROON, lineWidth: 5, lineDash: [6, 6] }), txt(771, 259, "4", 25, "normal", "center"),
    seg(640, 293, 735, 293, { stroke: GREEN, lineWidth: 1.5, lineDash: [18, 5, 2, 5] }), txt(771, 293, "5", 25, "normal", "center"),
    seg(640, 329, 738, 329, { stroke: "#000", lineWidth: 1.5 }), { type: "rect", z: 21, shape: { x: 683, y: 323, width: 12, height: 12 }, style: { fill: "#fff", stroke: BLUE, lineWidth: 1.6 } }, txt(771, 329, "6", 25, "normal", "center"),
    seg(640, 364, 741, 364, { stroke: GREEN, lineWidth: 4, lineDash: [20, 10] }), txt(771, 364, "7", 25, "normal", "center"),
    // colour bar of panel d
    txt(1883, 170, "Wind Direction", 24, "normal", "center"), txt(1888, 201, "(deg)", 24, "normal", "center"),
    // scale arrows
    { type: "polyline", z: 20, shape: { points: [[1857, 986], [1857, 1029], [1903, 1029]] }, style: { stroke: "#000", fill: "none", lineWidth: 1.4 } },
    { type: "polyline", z: 20, shape: { points: [[1848, 1000], [1857, 986], [1866, 1000]] }, style: { stroke: "#000", fill: "none", lineWidth: 1.4 } },
    { type: "polyline", z: 20, shape: { points: [[1888, 1015], [1903, 1029], [1888, 1043]] }, style: { stroke: "#000", fill: "none", lineWidth: 1.4 } },
    txt(1882, 1060, "3 m/s", 23.5, "normal", "center"),
  ];
  const h = 697 / bandColors.length;
  bandColors.forEach((c, i) => {
    g.push({ type: "rect", z: 20, shape: { x: 1843, y: 235 + i * h, width: 44, height: h }, style: { fill: c, stroke: "#000", lineWidth: 1 } });
    g.push(txt(1894, 235 + (i + 1) * h, barLabels[i], 23));
  });
  return g;
}

const label = (size: number, margin: number, extra: any = {}) => ({ color: "#000", fontSize: size, fontFamily: FONT, margin, ...extra });
const nameStyle = (size: number, extra: any = {}) => ({ color: "#000", fontSize: size, fontFamily: FONT, ...extra });
const line2 = { show: true, onZero: false, lineStyle: { color: "#000", width: 2 } };

function hourAxes(gridIndex: number, margin: number, name?: string) {
  return [
    { type: "value", gridIndex, min: 0, max: 24, interval: 2, z: 10, axisLine: line2, splitLine: { show: false }, axisTick: { length: 8, lineStyle: { color: "#000", width: 1.5 } }, axisLabel: label(25, margin), name, nameLocation: "middle", nameGap: 60, nameTextStyle: nameStyle(34) },
    { type: "value", gridIndex, min: 0, max: 24, position: "top", z: 10, axisLine: line2, splitLine: { show: false }, axisTick: { show: false }, axisLabel: { show: false } },
  ];
}
function valueAxes(gridIndex: number, min: number, max: number, interval: number, name: string, gap: number, margin: number, fixed?: number, size = 34) {
  return [
    { type: "value", gridIndex, min, max, interval, z: 10, axisLine: line2, splitLine: { show: false }, axisTick: { length: 8, lineStyle: { color: "#000", width: 1.5 } }, axisLabel: label(25, margin, fixed ? { formatter: (v: number) => v.toFixed(fixed) } : {}), name, nameLocation: "middle", nameRotate: 90, nameGap: gap, nameTextStyle: nameStyle(size) },
    { type: "value", gridIndex, min, max, position: "right", z: 10, axisLine: line2, splitLine: { show: false }, axisTick: { show: false }, axisLabel: { show: false } },
  ];
}
const zeroLine = (x: number, y: number) => ({ type: "line", xAxisIndex: x, yAxisIndex: y, silent: true, symbol: "none", data: [[0, 0], [24, 0]], lineStyle: { color: "#000", width: 2.2 } });

const kmTicks = [-10, 0, 10, 20, 30, 40, 50, 60, 70, 80];
const hourTicks = [0, 3, 6, 9, 12, 15, 18, 21, 24];

function buildOption(): any {
  const dAxisX = { type: "value", gridIndex: 3, min: -15, max: 80, z: 10, axisLine: line2, splitLine: { show: false },
    axisTick: { length: 11, lineStyle: { color: "#000", width: 1.5 }, customValues: kmTicks },
    axisLabel: label(26, 20, { customValues: kmTicks, padding: [0, 10, 0, 0] }),
    name: "Distance from Shoreline (km)", nameLocation: "middle", nameGap: 66, nameTextStyle: nameStyle(29, { padding: [0, 8, 0, 0] }) };
  const dAxisTop = { type: "value", gridIndex: 3, min: -15, max: 80, position: "top", z: 10, axisLine: line2, splitLine: { show: false },
    axisTick: { length: 12, lineStyle: { color: "#000", width: 1.2 }, customValues: [0, 20, 40, 60, 80] }, axisLabel: { show: false } };
  const dAxisY = { type: "value", gridIndex: 3, min: 0, max: 25, z: 10, axisLine: line2, splitLine: { show: false },
    axisTick: { length: 13, lineStyle: { color: "#000", width: 1.5 }, customValues: hourTicks },
    axisLabel: label(26, 19, { customValues: hourTicks }),
    name: "Time (LST)", nameLocation: "middle", nameRotate: 90, nameGap: 66, nameTextStyle: nameStyle(26, { padding: [0, 26, 0, 0] }) };
  const dAxisRight = { type: "value", gridIndex: 3, min: 0, max: 25, position: "right", z: 10, axisLine: line2, splitLine: { show: false },
    axisTick: { length: 13, lineStyle: { color: "#000", width: 1.2 }, customValues: [0, 5, 10, 15, 20, 25] }, axisLabel: { show: false } };

  const dBase = { xAxisIndex: 6, yAxisIndex: 6, silent: true };
  return {
    animation: false,
    backgroundColor: "#fff",
    grid: [
      { left: 125.5, top: 61, width: 796, height: 317 },
      { left: 127.5, top: 486, width: 796, height: 317 },
      { left: 133.5, top: 908.5, width: 796, height: 250 },
      { left: 1071.5, top: 79, width: 696.5, height: 1044 },
    ],
    xAxis: [...hourAxes(0, 24), ...hourAxes(1, 27), ...hourAxes(2, 27, "Time (LST)"), dAxisX, dAxisTop],
    yAxis: [
      ...valueAxes(0, 10, 35, 5, "Temperature (°C)", 80, 24, undefined, 35),
      ...valueAxes(1, -3, 3, 1, "Pressure (hPa)", 74, 24),
      ...valueAxes(2, -1, 1, 0.2, "Pressure (hPa)", 98, 26, 1),
      dAxisY, dAxisRight,
    ],
    graphic: graphics(),
    series: [
      ...sevenLines(0, 0, [temp1, temp2, temp3, temp4, temp5, temp6, temp7], 15, 5.5),
      zeroLine(2, 2),
      ...sevenLines(2, 2, [pres1, pres2, pres3, pres4, pres5, pres6, pres7], 18, 6),
      zeroLine(4, 4),
      { type: "line", xAxisIndex: 4, yAxisIndex: 4, silent: true, data: zip(pa6MinusPa1), lineStyle: { color: RED, width: 6 }, symbol: "circle", symbolSize: 16, showSymbol: true, itemStyle: { color: "rgba(255,255,255,0)", borderColor: RED, borderWidth: 2 } },
      { ...dBase, type: "custom", clip: true, data: bandLayers.map((_, i) => [0, 0, i]), renderItem: renderBand, z: 2 },
      { ...dBase, type: "custom", clip: true, data: bubbles46, renderItem: renderBubble, z: 3 },
      { ...dBase, type: "custom", clip: true, data: bubbles56, renderItem: renderBubble, z: 3 },
      { ...dBase, type: "custom", clip: true, data: contourLines.map((_, i) => [0, 0, i]), renderItem: renderContour, z: 4 },
      { ...dBase, type: "line", clip: false, symbol: "none", data: [[0, 24.62], [0, -0.48]], lineStyle: { color: BLUE, width: 2.8, type: [17.5, 17.5], dashOffset: 13 }, z: 5 },
      { ...dBase, type: "custom", data: windData, renderItem: renderArrow, z: 6 },
      { ...dBase, type: "custom", data: contourLabels.map((_, i) => [0, 0, i]), renderItem: renderLabel, z: 7 },
    ],
  };
}

export default function App() {
  const ref = useRef<HTMLDivElement>(null);
  useEffect(() => {
    document.body.style.margin = "0";
    const chart = echarts.init(ref.current!, undefined, { renderer: "svg" });
    chart.setOption(buildOption());
    return () => chart.dispose();
  }, []);
  return <div ref={ref} style={{ position: "absolute", left: 0, top: 0, width: 1961, height: 1257 }} />;
}
